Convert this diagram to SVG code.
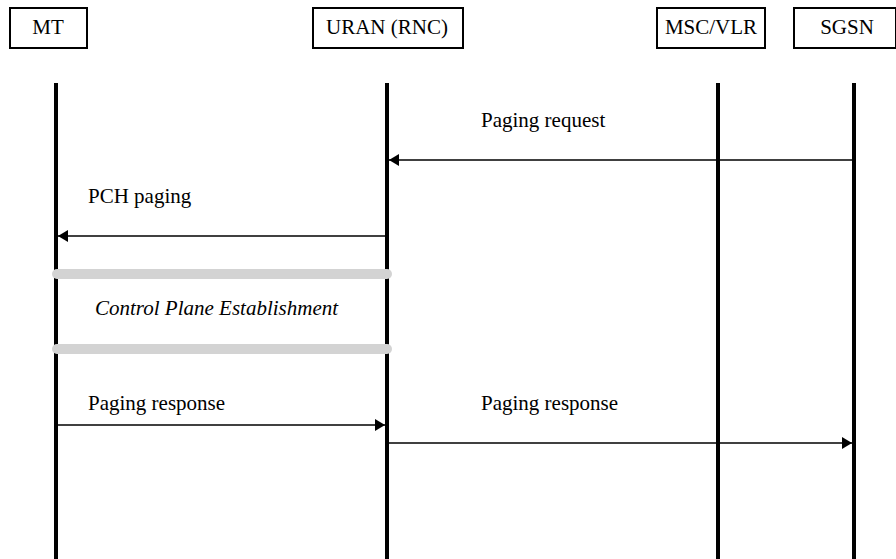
<svg xmlns="http://www.w3.org/2000/svg" width="896" height="559" viewBox="0 0 896 559">
<style>
.box{fill:#fff;stroke:#000;stroke-width:2}
.t{font-family:"Liberation Serif","Times New Roman",serif;font-size:21px;fill:#000}
.life{stroke:#000;stroke-width:4}
.msg{stroke:#000;stroke-width:1.5;fill:none}
.bar{stroke:#d3d3d3;stroke-width:10;stroke-linecap:round}
</style>
<defs>
<marker id="ah" viewBox="0 0 10 12" refX="10" refY="6" markerWidth="10" markerHeight="12" markerUnits="userSpaceOnUse" orient="auto">
<path d="M0,0 L10,6 L0,12 Z" fill="#000"/>
</marker>
</defs>
<g id="MT">
<rect class="box" x="10" y="8" width="77" height="40"/>
<text class="t" x="48" y="34" text-anchor="middle">MT</text>
<line class="life" x1="56" y1="83" x2="56" y2="559"/>
</g>
<g id="URAN">
<rect class="box" x="313" y="8" width="150" height="40"/>
<text class="t" x="387" y="34" text-anchor="middle">URAN (RNC)</text>
<line class="life" x1="387" y1="83" x2="387" y2="559"/>
</g>
<g id="MSC">
<rect class="box" x="657" y="8" width="108" height="40"/>
<text class="t" x="711" y="34" text-anchor="middle">MSC/VLR</text>
<line class="life" x1="718" y1="83" x2="718" y2="559"/>
</g>
<g id="SGSN">
<rect class="box" x="794" y="8" width="102" height="40"/>
<text class="t" x="847" y="34" text-anchor="middle">SGSN</text>
<line class="life" x1="854" y1="83" x2="854" y2="559"/>
</g>
<g id="connectors">
<line class="msg" x1="852" y1="160" x2="389" y2="160" marker-end="url(#ah)"/>
<text class="t" x="481" y="127">Paging request</text>
<line class="msg" x1="385" y1="236" x2="58" y2="236" marker-end="url(#ah)"/>
<text class="t" x="88" y="203">PCH paging</text>
<line class="bar" x1="57" y1="274" x2="387" y2="274"/>
<line class="bar" x1="57" y1="349" x2="387" y2="349"/>
<text class="t" x="95" y="315" font-style="italic" font-size="21.6">Control Plane Establishment</text>
<line class="msg" x1="58" y1="425" x2="385" y2="425" marker-end="url(#ah)"/>
<text class="t" x="88" y="410">Paging response</text>
<line class="msg" x1="389" y1="443" x2="852" y2="443" marker-end="url(#ah)"/>
<text class="t" x="481" y="410">Paging response</text>
</g>
</svg>
